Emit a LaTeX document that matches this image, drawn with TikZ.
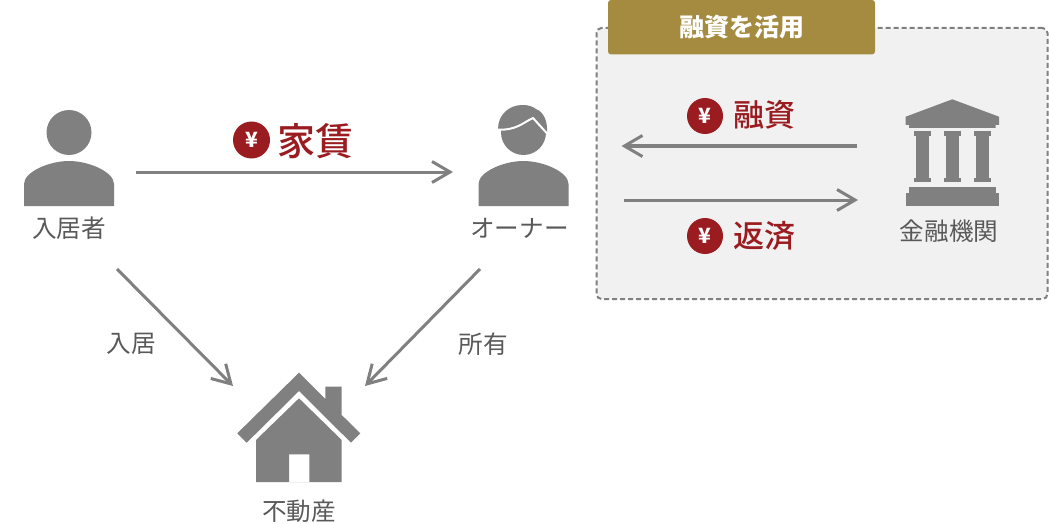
\documentclass[tikz,border=0pt]{standalone}
\usepackage{fontspec}
\setmainfont{Noto Sans CJK JP}
\newfontfamily\mediumfont{Noto Sans CJK JP Medium}
\usetikzlibrary{arrows.meta,positioning}
\definecolor{icongray}{HTML}{808080}
\definecolor{labelgray}{HTML}{595959}
\definecolor{moneyred}{HTML}{9B1C20}
\definecolor{headgold}{HTML}{A58B3F}
\definecolor{panelgray}{HTML}{F1F1F1}
\newcommand{\px}[1]{\fontsize{#1}{#1}\selectfont}
\tikzset{
  iconbox/.style={inner sep=0pt,outer sep=0pt},
  caption/.style={inner sep=0pt,text=labelgray,font=\px{24.6}},
  money/.style={inner sep=0pt,text=moneyred,font=\px{31}\mediumfont},
  yenbadge/.style={circle,fill=moneyred,text=white,inner sep=0pt,minimum size=36,font=\px{21}\bfseries},
  flow/.style={draw=icongray,line width=3,-{Straight Barb[length=18,width=21,line width=3]}},
  bust/.pic={
    \fill (-45,48) -- (-45,26) .. controls (-45,14) and (-20,3) .. (0,3)
      .. controls (20,3) and (45,14) .. (45,26) -- (45,48) -- cycle;
  }
}
\begin{document}
\begin{tikzpicture}[x=1pt,y=-1pt]
\useasboundingbox (0,0) rectangle (1049,524);
\node [draw=icongray,fill=panelgray,line width=2,dash pattern=on 5pt off 3pt,rounded corners=5,minimum width=451,minimum height=271,inner sep=0pt] (panel) at (822,163.5) {};
\node [fill=headgold,rounded corners=3,minimum width=267,minimum height=54.5,inner sep=0pt,text=white,font=\px{25}\bfseries] (header) at (741.5,27.2) {融資を活用};

\node [iconbox,minimum width=90,minimum height=96] (tenant) at (69,158) {};
\node [iconbox,minimum width=91,minimum height=101] (owner) at (523.5,155.5) {};
\node [iconbox,minimum width=94,minimum height=107] (bank) at (952,152.5) {};
\node [iconbox,minimum width=124,minimum height=111] (house) at (299,427.5) {};

\fill [icongray] (69,132.5) circle (22.5);
\path [fill=icongray] (69,158) pic {bust};
\path [fill=icongray] (523.5,158) pic {bust};

\fill [icongray] (523.5,132.5) circle (22.5);
\fill [icongray] (498,129) .. controls (498,114) and (510,105) .. (522,105)
  .. controls (530,105) and (533,107) .. (536,109)
  .. controls (544,112) and (548,122) .. (547,134) -- (533,118)
  .. controls (525,122) and (518,130) .. (498,129) -- cycle;
\draw [white,line width=2] (497,129.5) .. controls (516,131) and (524,122) .. (533,118) -- (548,134.5);

\fill [icongray] (952.3,99.3) -- (999,116.7) -- (999,125) -- (995.7,125) -- (995.7,128)
  -- (909,128) -- (909,125) -- (905.7,125) -- (905.7,116.7) -- cycle;
\foreach \x in {922.3,952.3,982.3} {
  \fill [icongray] (\x-8.3,131.3) rectangle (\x+8.3,136);
  \fill [icongray] (\x-6.6,136) rectangle (\x+6.6,177.5);
  \fill [icongray] (\x-8.3,177.5) rectangle (\x+8.3,182);
}
\fill [icongray] (909,187.3) rectangle (995.7,193.3);
\fill [icongray] (905.7,193.3) rectangle (999,205.5);

\fill [icongray] (299,372.7) -- (325.3,399) -- (325.3,386.7) -- (341.7,386.7) -- (341.7,415)
  -- (360.3,433.3) -- (351,442.7) -- (299,391) -- (246.7,442.7) -- (237.3,433.3) -- cycle;
\fill [icongray,even odd rule] (299,398.3) -- (341.7,440) -- (341.7,482) -- (256,482) -- (256,440) -- cycle
  (289,454.3) rectangle (309.3,482);

\node [caption] (tenantlabel) at (69,228) {入居者};
\node [caption] (ownerlabel) at (519.5,228) {オーナー};
\node [caption] (banklabel) at (949,231) {金融機関};
\node [caption] (houselabel) at (299,511) {不動産};
\node [caption] (livelabel) at (131,344) {入居};
\node [caption] (ownlabel) at (483,344) {所有};

\node [yenbadge,minimum size=37] (rentyen) at (251.5,140) {¥};
\node [money,font=\px{38}\mediumfont] (rent) at (315,141) {家賃};
\node [yenbadge] (loanyen) at (705,116) {¥};
\node [money] (loan) at (764.5,115) {融資};
\node [yenbadge] (repayyen) at (705,236) {¥};
\node [money] (repay) at (764.5,236) {返済};

\draw [flow] ([shift={(22,14)}]tenant.east) -- ([shift={(-25,16.5)}]owner.west);
\draw [flow] ([shift={(48,63)}]tenant.south) -- ([shift={(-66,14)}]house.north);
\draw [flow] ([shift={(-43.5,63)}]owner.south) -- ([shift={(66,14)}]house.north);
\draw [flow] ([shift={(-48,-6.5)}]bank.west) -- ([shift={(26,-17.5)}]panel.west);
\draw [flow] ([shift={(28,36.5)}]panel.west) -- ([shift={(-47,47.5)}]bank.west);
\end{tikzpicture}
\end{document}
